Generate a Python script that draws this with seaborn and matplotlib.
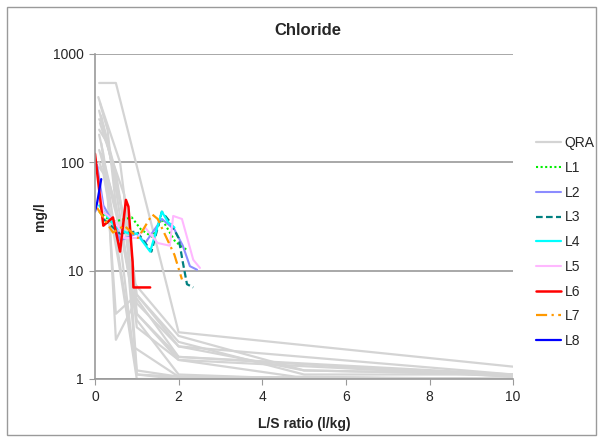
import numpy as np
import pandas as pd
import matplotlib
matplotlib.use("Agg")
import matplotlib.pyplot as plt
import seaborn as sns
from matplotlib.patches import Rectangle

# QRA reference curves (grey), one x/y pair per curve
qra_x = [
    [0.1, 0.5, 2, 10],
    [0.08, 0.15, 0.6, 1.0, 2, 5, 10],
    [0.1, 0.2, 0.5, 1, 2, 5, 10],
    [0.12, 0.3, 0.5, 1, 2, 10],
    [0.1, 0.3, 0.7, 1, 2, 10],
    [0.1, 0.2, 0.5, 1, 2, 10],
    [0.15, 0.3, 0.5, 1, 2, 10],
    [0.15, 0.3, 0.5, 1, 2, 10],
    [0.1, 0.4, 0.8, 1, 2, 10],
    [0.12, 0.25, 0.7, 1.0, 2, 10],
    [0.1, 0.2, 0.6, 1.0, 10],
    [0.15, 0.35, 0.9, 1, 2, 4.8, 10],
    [0.1, 0.5, 0.9, 2, 5, 10],
    [0.2, 0.6, 1.0, 2, 5, 10],
    [0.1, 0.3, 0.9, 2, 5, 10],
]
qra_y = [
    [540, 540, 2.7, 1.3],
    [400, 330, 100, 6, 2.2, 1.1, 1.1],
    [250, 220, 80, 5, 2.0, 1.2, 1.1],
    [350, 200, 40, 4, 1.6, 1.1],
    [200, 150, 30, 3, 1.5, 1.05],
    [180, 120, 20, 1.1, 1.05, 1.0],
    [150, 60, 2.3, 5.5, 1.6, 1.05],
    [120, 50, 4, 6, 2.0, 1.1],
    [300, 100, 10, 1.1, 1.0, 1.0],
    [230, 160, 50, 1.2, 1.05, 1.0],
    [100, 80, 10, 1.0, 1.0],
    [270, 120, 12, 4, 1.5, 1.05, 1.0],
    [130, 40, 2, 1.05, 1.0, 1.0],
    [110, 25, 3.5, 1.1, 1.0, 1.0],
    [90, 70, 8, 2.5, 1.2, 1.1],
]

# leaching tests
l1_x = [0.1, 0.4, 0.88, 1.1, 1.37, 1.6, 1.92, 2.2]
l1_y = [35, 28, 31, 24, 20.5, 30, 18.5, 15.5]
l2_x = [0.05, 0.2, 0.5, 0.6, 1.0, 1.2, 1.6, 1.9, 2.1, 2.27, 2.44]
l2_y = [95, 40, 25, 19, 22, 18, 30, 24, 17, 11, 10.2]
l3_x = [0.2, 0.6, 1.0, 1.35, 1.6, 1.8, 2.0, 2.1, 2.2, 2.35]
l3_y = [30, 22, 23, 15, 35, 28, 20, 12, 7.5, 7]
l4_x = [0.1, 0.5, 0.8, 1.0, 1.32, 1.6, 1.75, 1.9]
l4_y = [40, 25, 22, 22, 15, 35, 28, 25]
l5_x = [0.1, 0.2, 0.5, 0.7, 1.0, 1.2, 1.5, 1.79, 1.87, 2.08, 2.35, 2.51]
l5_y = [60, 35, 28, 20, 20, 25, 18, 17, 32, 30, 12.6, 10.6]
l6_x = [0, 0.2, 0.43, 0.6, 0.74, 0.8, 0.9, 0.92, 1.32]
l6_y = [120, 26, 31, 15, 45, 39, 12, 7, 7]
l7_x = [0.05, 0.43, 0.7, 1.03, 1.37, 1.5, 1.9, 2.08]
l7_y = [38, 22.5, 26, 20, 33, 30, 14, 8.3]
l8_x = [0, 0.05, 0.15]
l8_y = [35, 42, 70]

sns.set_style("white")
plt.rcParams['font.family'] = ['Liberation Sans', 'DejaVu Sans']

fig = plt.figure(figsize=(6.03, 4.41), dpi=100)
ax = fig.add_axes([0.1575, 0.1406, 0.6935, 0.737])

grey = "#d4d4d4"
qra = pd.DataFrame({
    "x": [v for xs in qra_x for v in xs],
    "y": [v for ys in qra_y for v in ys],
    "curve": [i for i, xs in enumerate(qra_x) for _ in xs],
})
sns.lineplot(data=qra, x="x", y="y", units="curve", estimator=None, sort=False,
             color=grey, lw=1.6, ax=ax, legend=False)
ax.plot([], [], color=grey, lw=1.6, label="QRA")

series = [
    ("L1", l1_x, l1_y, "#00ee00", (0, (1, 1.2)), 1.5),
    ("L2", l2_x, l2_y, "#8c8cff", "-", 1.5),
    ("L3", l3_x, l3_y, "#008080", (0, (3, 1.5)), 1.6),
    ("L4", l4_x, l4_y, "#00ffff", "-", 1.6),
    ("L5", l5_x, l5_y, "#ffb8ff", "-", 1.5),
    ("L6", l6_x, l6_y, "#ff0000", "-", 1.8),
    ("L7", l7_x, l7_y, "#ff9900", (0, (5, 2, 1, 2)), 1.6),
    ("L8", l8_x, l8_y, "#0000ff", "-", 1.6),
]
for name, xs, ys, col, ls, lw in series:
    sns.lineplot(x=xs, y=ys, sort=False, estimator=None, color=col,
                 linestyle=ls, lw=lw, label=name, ax=ax)

ax.set_yscale("log")
ax.set_ylim(1, 1000)
ax.set_xlim(0, 10)
ax.set_xticks([0, 2, 4, 6, 8, 10])
ax.set_yticks([1, 10, 100, 1000])
ax.set_yticklabels(["1", "10", "100", "1000"])
ax.yaxis.set_minor_locator(matplotlib.ticker.NullLocator())
ax.grid(axis="y", color="#9a9a9a", lw=1.2)
ax.grid(axis="x", visible=False)
for s in ["top", "right"]:
    ax.spines[s].set_visible(False)
for s in ["left", "bottom"]:
    ax.spines[s].set_color("#9a9a9a")
    ax.spines[s].set_linewidth(1.2)
ax.tick_params(axis="both", which="major", direction="out", length=4,
               color="#9a9a9a", labelsize=10, pad=4, left=True, bottom=True)

ax.set_title("Chloride", fontsize=12, fontweight="bold", pad=14, x=0.51)
ax.set_xlabel("L/S ratio (l/kg)", fontsize=10, fontweight="bold", labelpad=9)
ax.set_ylabel("mg/l", fontsize=10, fontweight="bold", labelpad=4)

ax.legend(loc="upper left", bbox_to_anchor=(1.024, 0.785), frameon=False,
          fontsize=10, handlelength=1.8, handletextpad=0.3, labelspacing=0.77,
          borderaxespad=0.5)

fig.patches.append(Rectangle((0.012, 0.014), 0.976, 0.971, transform=fig.transFigure,
                             fill=False, edgecolor="#9a9a9a", lw=1.0))

fig.savefig("out.png", dpi=100)
